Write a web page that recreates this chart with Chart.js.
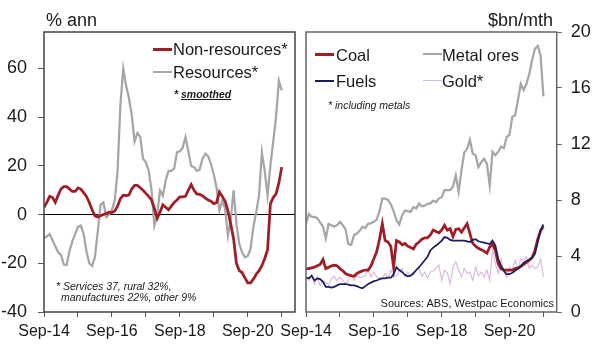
<!DOCTYPE html>
<html lang="en">
<head>
  <meta charset="UTF-8" />
  <title>Export values - resources and non-resources</title>
  <style>
    body { margin: 0; background: #fff; }
    .wrap { position: relative; width: 602px; height: 361px; overflow: hidden;
            font-family: "Liberation Sans", Arial, sans-serif; color: #1a1a1a; }
    canvas { position: absolute; top: 0; }
    #chartLeft { left: 0; }
    #chartRight { left: 262px; }
    .txt { position: absolute; white-space: nowrap; line-height: 1; }
    .unit { font-size: 18px; }
    .leg { font-size: 16.5px; }
    .note { font-style: italic; font-size: 10.5px; }
    .swatch { position: absolute; width: 19px; }
  </style>
</head>
<body>
<div class="wrap">
  <canvas id="chartLeft" width="300" height="361"></canvas>
  <canvas id="chartRight" width="340" height="361"></canvas>

  <div class="txt unit" style="left:46px; top:11px;">% ann</div>
  <div class="txt unit" style="right:49px; top:11px;">$bn/mth</div>

  <!-- left legend -->
  <div class="swatch" style="left:153px; top:48px; height:3px; background:#a01d26;"></div>
  <div class="txt leg" style="left:173px; top:41px;">Non-resources*</div>
  <div class="swatch" style="left:153px; top:71px; height:2px; background:#a6a6a6;"></div>
  <div class="txt leg" style="left:173px; top:64px;">Resources*</div>
  <div class="txt note" style="left:174px; top:89px; font-weight:bold;">* <u>smoothed</u></div>
  <div class="txt note" style="left:56px; top:281px;">* Services 37, rural 32%,</div>
  <div class="txt note" style="left:61px; top:292px;">manufactures 22%, other 9%</div>

  <!-- right legend -->
  <div class="swatch" style="left:315px; top:53px; height:3px; background:#a01d26;"></div>
  <div class="txt leg" style="left:336px; top:47px;">Coal</div>
  <div class="swatch" style="left:423px; top:53px; height:2px; background:#a6a6a6;"></div>
  <div class="txt leg" style="left:442px; top:47px;">Metal ores</div>
  <div class="swatch" style="left:315px; top:80px; height:2px; background:#1d1d5e;"></div>
  <div class="txt leg" style="left:336px; top:73px;">Fuels</div>
  <div class="swatch" style="left:423px; top:80px; height:1px; background:#dab6dc;"></div>
  <div class="txt leg" style="left:442px; top:73px;">Gold*</div>
  <div class="txt note" style="left:328px; top:100px;">* including metals</div>
  <div class="txt" style="right:48px; top:298px; font-size:11px;">Sources: ABS, Westpac Economics</div>
</div>

<script src="https://cdn.jsdelivr.net/npm/chart.js@4.4.0/dist/chart.umd.min.js"></script>
<script>
  // monthly, Sep-14 .. Sep-21
  const xTickLabels = ['Sep-14', '', 'Sep-16', '', 'Sep-18', '', 'Sep-20', ''];

  // left panel, % ann (smoothed)
  const nonResources = [
    3, 5, 7.5, 7, 5, 8, 10.5, 11.5, 11.5, 10.5,
    9.5, 9.5, 11, 10.5, 9, 7.5, 5, 2, -0.5, -1,
    -0.5, 0, 0.5, 1, 0.8, 1.5, 3.5, 6.5, 8, 7.8,
    8, 10.5, 12, 12, 11, 10, 8.7, 7.5, 6, 2.5,
    -1.5, 1, 4, 3, 2, 3.5, 5, 6, 7.3, 7.3,
    7.5, 10, 12.3, 10, 8.5, 8.3, 7.8, 6.8, 6, 5.5,
    4.5, 5, 9.3, 7.5, 5.5, 1.5, -4, -10, -20, -23,
    -23.8, -26, -28, -28, -26.5, -24.5, -23, -21, -18, -14.5,
    4.4, 7, 8.5, 13, 19.5
  ];
  const resources = [
    -9.6, -9, -8, -10.5, -13, -15.5, -16.5, -20.5, -20.7, -15,
    -11, -8, -5, -4.5, -8, -15, -20, -21, -17.5, -7,
    4, 5, -1, 0, 2, 5.8, 18, 45, 60, 53,
    48, 41, 30, 33.5, 32, 23, 21.5, 18, 10, -4.5,
    0, 9.9, 7.8, 14, 18, 18, 19, 25.6, 26, 27.5,
    31.8, 26, 20, 19.5, 18, 18.5, 23, 25, 24, 20.8,
    16.5, 11, 1.6, 5.7, 2.3, -8.6, -2, 10, -3.8, -12,
    -15.5, -17.5, -17, -14, -5, 1, 8, 25.6, 18, 7.8,
    20, 30, 40, 55, 51
  ];

  // right panel, $bn/mth
  const coal = [
    3.1, 3.1, 3.15, 3.2, 3.3, 3.4, 3.75, 3.1, 3.2, 3.3,
    3.35, 3.3, 3.1, 2.95, 2.75, 2.65, 2.6, 2.55, 2.75, 2.85,
    2.95, 3.0, 3.0, 3.3, 3.8, 4.3, 5.2, 6.3, 5.1, 5.0,
    4.7, 3.2, 5.1, 5.0, 4.8, 4.9, 4.7, 4.6, 4.5, 4.85,
    5.0, 5.2, 5.3, 5.3, 5.5, 5.85, 5.75, 5.65, 5.85, 6.2,
    5.85, 5.95, 5.4, 5.9, 5.95, 5.7, 6.0, 6.3, 5.6, 4.9,
    4.7, 4.55, 4.45, 4.35, 4.2, 4.65, 4.85, 4.4, 3.45, 3.1,
    3.0, 3.0, 3.0, 3.0, 3.1, 3.15, 3.25, 3.4, 3.55, 3.7,
    3.9, 4.4, 5.2, 5.8, 6.1
  ];
  const metalOres = [
    6.3, 7.0, 6.8, 6.8, 6.7, 6.4, 6.1, 5.25, 6.3, 6.2,
    6.1, 6.2, 6.45, 6.2, 5.9, 4.85, 4.8, 5.5, 5.6, 5.8,
    6.1, 6.0, 6.3, 6.35, 6.45, 6.6, 7.2, 8.1, 8.1, 8.0,
    7.7, 7.2, 6.55, 6.25, 6.9, 7.25, 7.2, 7.15, 7.5, 7.4,
    7.75, 7.55, 7.6, 7.75, 7.75, 7.95, 7.85, 8.1, 8.2, 8.7,
    8.7, 8.7, 8.95, 9.75, 8.6, 10.1, 11.4, 11.65, 12.3, 11.3,
    11.2, 10.35, 10.7, 10.95, 10.6, 9.05, 11.45, 11.2, 11.45, 11.8,
    11.7, 12.5, 12.65, 13.95, 14.05, 15.15, 16.3, 15.85, 16.3, 17.0,
    18.0, 18.8, 19.0, 18.3, 15.4
  ];
  const fuels = [
    2.45, 2.4, 2.6, 2.25, 2.4, 2.35, 2.15, 1.8, 1.8, 1.75,
    1.8, 1.9, 2.0, 2.0, 2.0, 1.95, 1.9, 1.9, 1.85, 1.75,
    1.7, 1.85, 2.0, 2.1, 2.2, 2.25, 2.35, 2.4, 2.4, 2.45,
    2.45, 2.7, 3.2, 3.0, 2.85, 2.65, 2.55, 2.6, 2.75, 3.0,
    3.2, 3.45, 3.7, 3.95, 4.4, 4.6, 4.75, 4.9, 5.1, 5.35,
    5.3, 5.15, 5.1, 5.1, 5.1, 5.1, 5.1, 5.05, 5.0, 5.15,
    5.2, 5.05, 5.0, 4.95, 4.9, 4.85, 5.1, 4.75, 3.8, 3.3,
    2.95, 2.7, 2.7, 2.8, 2.95, 3.1, 3.3, 3.5, 3.65, 3.75,
    3.85, 4.15, 5.0, 5.85, 6.25
  ];
  const gold = [
    2.55, 2.25, 2.55, 2.0, 2.5, 1.9, 2.25, 2.1, 1.9, 2.4,
    2.55, 2.25, 2.5, 2.3, 2.0, 2.3, 2.6, 2.25, 2.6, 2.45,
    2.5, 2.6, 3.0, 2.5, 2.85, 2.5, 2.45, 2.4, 2.75, 2.4,
    3.0, 2.5, 2.6, 2.9, 3.1, 2.5, 2.85, 2.55, 2.85, 3.0,
    3.1, 2.55, 2.85, 2.45, 2.85, 2.95, 3.1, 3.35, 2.25, 3.0,
    2.8, 2.0, 3.2, 3.6, 3.0, 2.5, 3.1, 2.75, 2.85, 2.25,
    3.2, 2.6, 2.85, 2.5, 3.0, 2.25, 4.45, 3.45, 2.75, 3.8,
    2.85, 2.5, 3.2, 3.0, 3.7, 3.0, 3.8, 3.7, 3.95, 3.1,
    3.35, 3.1, 3.2, 3.8, 2.5
  ];

  const RED = '#a01d26', GREY = '#a6a6a6', NAVY = '#1d1d5e', PINK = '#dab6dc';
  const FONT = "'Liberation Sans', Arial, sans-serif";

  const points = arr => arr.map((v, i) => ({ x: i, y: v }));

  const line = (label, arr, color, width) => ({
    label, data: points(arr), borderColor: color, borderWidth: width,
    pointRadius: 0, tension: 0, fill: false
  });

  // box round the plot area
  const frame = {
    id: 'frame',
    afterDraw(chart, args, opts) {
      const { ctx, chartArea: a } = chart;
      ctx.save();
      ctx.strokeStyle = opts.color;
      ctx.lineWidth = opts.width;
      ctx.strokeRect(a.left, a.top, a.right - a.left, a.bottom - a.top);
      ctx.restore();
    }
  };

  function xAxis() {
    return {
      type: 'linear', min: 0, max: 88.7,
      afterFit(s) { s.height = 49; },
      border: { display: false },
      grid: { drawOnChartArea: false, tickLength: 5, tickColor: '#555' },
      ticks: {
        stepSize: 12, includeBounds: false, autoSkip: false, maxRotation: 0,
        padding: 5, color: '#1a1a1a', font: { family: FONT, size: 16 },
        callback: v => xTickLabels[v / 12] ?? ''
      }
    };
  }

  new Chart(document.getElementById('chartLeft'), {
    type: 'line',
    data: {
      datasets: [
        line('Non-resources*', nonResources, RED, 2.75),
        line('Resources*', resources, GREY, 2.25)
      ]
    },
    options: {
      responsive: false, animation: false,
      layout: { padding: { top: 32, right: 5, left: 0, bottom: 0 } },
      plugins: { legend: { display: false }, tooltip: { enabled: false },
                 frame: { color: '#444', width: 1.5 } },
      scales: {
        x: xAxis(),
        y: {
          min: -40, max: 75,
          afterFit(s) { s.width = 44; },
          border: { display: false },
          grid: {
            color: c => (c.tick && c.tick.value === 0 ? '#000' : 'rgba(0,0,0,0)'),
            lineWidth: 1, tickLength: 6, tickColor: '#555'
          },
          ticks: { stepSize: 20, includeBounds: false, padding: 11,
                   color: '#1a1a1a', font: { family: FONT, size: 18 } }
        }
      }
    },
    plugins: [frame]
  });

  new Chart(document.getElementById('chartRight'), {
    type: 'line',
    data: {
      datasets: [
        line('Fuels', fuels, NAVY, 1.75),
        line('Coal', coal, RED, 2.75),
        line('Metal ores', metalOres, GREY, 2.25),
        line('Gold*', gold, PINK, 1.1)
      ]
    },
    options: {
      responsive: false, animation: false,
      layout: { padding: { top: 32, right: 0, left: 44, bottom: 0 } },
      plugins: { legend: { display: false }, tooltip: { enabled: false },
                 frame: { color: '#666', width: 1.5 } },
      scales: {
        x: xAxis(),
        y: {
          position: 'right', min: 0, max: 20,
          afterFit(s) { s.width = 45.3; },
          border: { display: false },
          grid: { drawOnChartArea: false, tickLength: 5, tickColor: '#666' },
          ticks: { stepSize: 4, padding: 9,
                   color: '#1a1a1a', font: { family: FONT, size: 18 } }
        }
      }
    },
    plugins: [frame]
  });
</script>
</body>
</html>
